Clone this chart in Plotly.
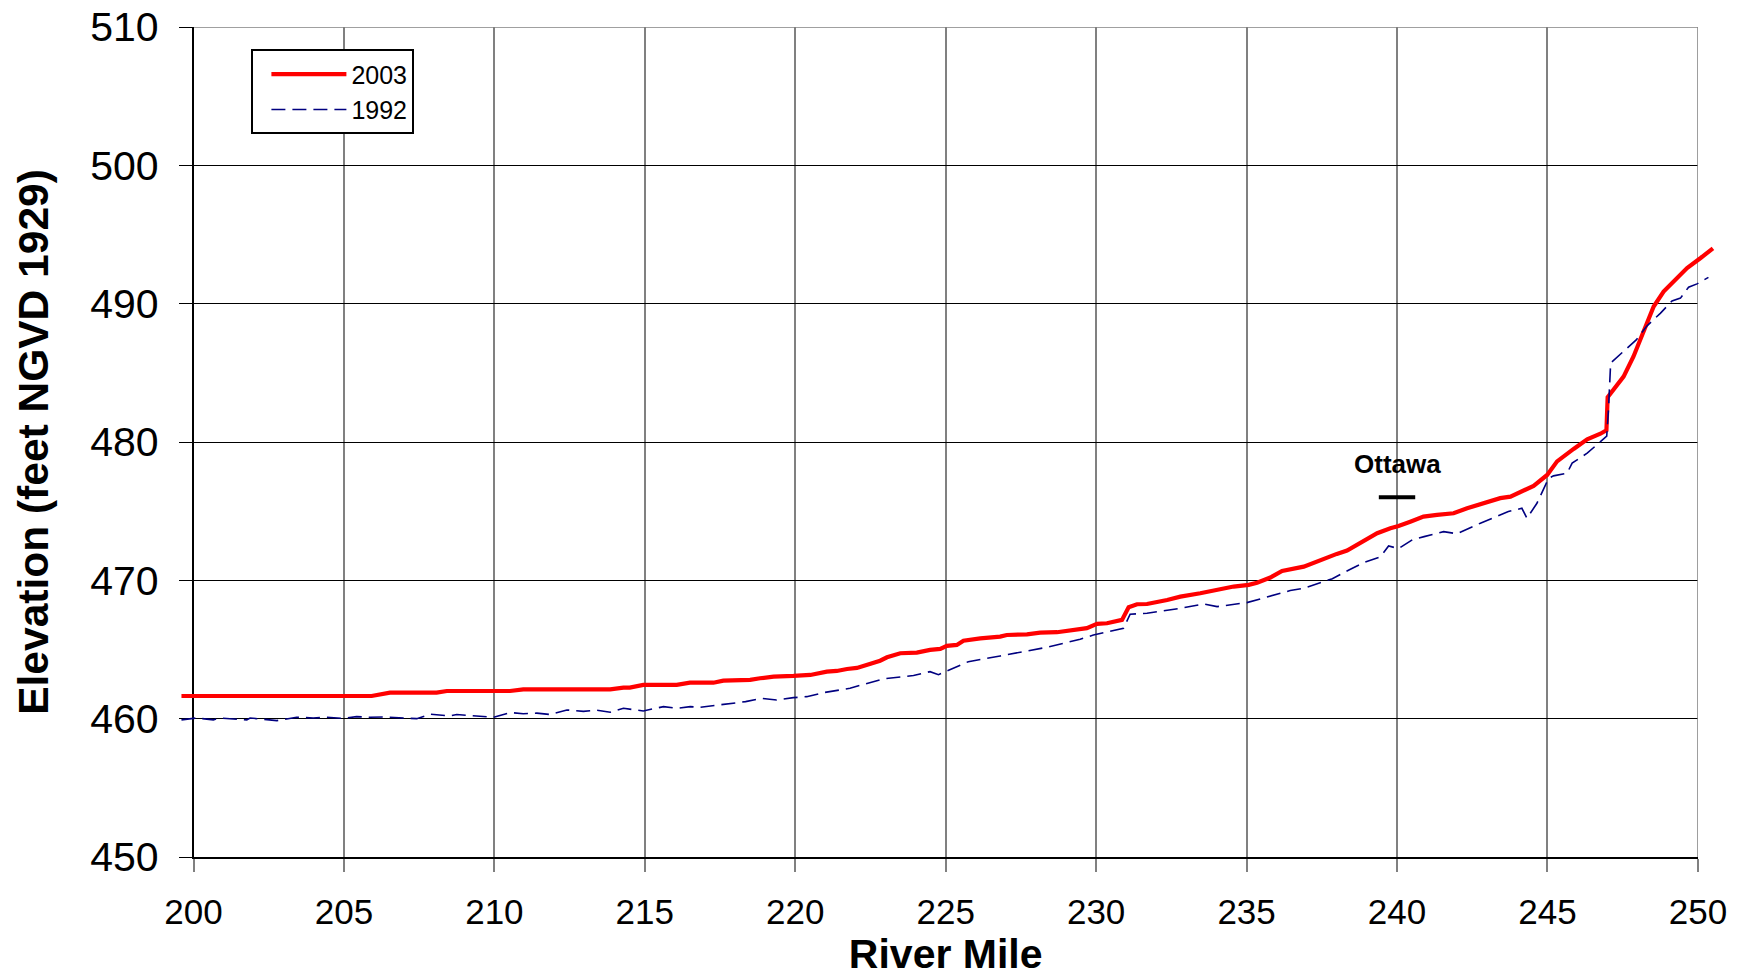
import plotly.graph_objects as go

# ---------------- data ----------------
mile_2003 = [199.6, 205.92, 206.53, 208.08, 208.42, 210.52, 210.96, 213.85, 214.29, 214.5,
             214.95, 216.06, 216.5, 217.28, 217.61, 218.5, 218.83, 219.28, 219.94, 220.5,
             221.05, 221.38, 221.72, 222.05, 222.82, 223.05, 223.49, 224.04, 224.48, 224.82,
             225.04, 225.37, 225.59, 226.15, 226.81, 227.03, 227.70, 228.14, 228.70, 229.14,
             229.69, 230.03, 230.36, 230.86, 231.08, 231.36, 231.69, 232.36, 232.80, 233.46,
             234.13, 234.57, 235.07, 235.35, 235.79, 236.18, 236.9, 237.23, 237.67, 238.0,
             238.34, 238.67, 239.0, 239.34, 239.78, 240.05, 240.44, 240.88, 241.33, 241.88,
             242.33, 242.88, 243.43, 243.77, 244.21, 244.54, 244.99, 245.32, 245.87, 246.32,
             246.76, 246.96, 247.0, 247.53, 247.86, 248.2, 248.53, 248.86, 249.2, 249.64,
             250.09, 250.5]
elev_2003 = [461.64, 461.64, 461.88, 461.88, 462.0, 462.0, 462.12, 462.12, 462.24, 462.24,
             462.44, 462.44, 462.6, 462.6, 462.75, 462.8, 462.92, 463.04, 463.09, 463.16,
             463.40, 463.45, 463.59, 463.67, 464.19, 464.44, 464.73, 464.77, 464.97, 465.04,
             465.26, 465.33, 465.64, 465.81, 465.93, 466.05, 466.10, 466.22, 466.25, 466.41,
             466.54, 466.85, 466.90, 467.14, 468.05, 468.27, 468.29, 468.58, 468.82, 469.07,
             469.36, 469.55, 469.67, 469.83, 470.2, 470.68, 470.99, 471.28, 471.6, 471.91,
             472.15, 472.56, 472.92, 473.41, 473.77, 473.93, 474.24, 474.61, 474.73, 474.85,
             475.21, 475.57, 475.94, 476.05, 476.49, 476.83, 477.62, 478.6, 479.5, 480.2,
             480.6, 480.85, 483.24, 484.73, 486.18, 488.1, 489.79, 490.88, 491.6, 492.57,
             493.3, 494.0]

mile_1992 = [199.6, 200.11, 200.66, 200.88, 201.77, 201.88, 202.77, 203.43, 203.98, 204.43,
             204.98, 205.42, 205.87, 206.42, 206.98, 207.42, 207.86, 208.53, 208.75, 209.52,
             209.97, 210.52, 210.96, 211.41, 211.85, 212.41, 212.96, 213.40, 213.85, 214.29,
             214.95, 215.62, 216.06, 216.51, 216.82, 218.35, 218.86, 219.38, 219.94, 220.38,
             220.94, 221.82, 222.93, 223.93, 224.48, 224.76, 225.48, 225.75, 226.81, 228.36,
             229.47, 229.91, 230.91, 231.13, 231.69, 232.8, 233.57, 234.02, 235.01, 235.68,
             236.45, 236.9, 237.85, 238.45, 238.89, 239.45, 239.72, 240.05, 240.52, 240.9,
             241.55, 241.99, 242.77, 243.7, 244.15, 244.32, 244.65, 245.04, 245.2, 245.65,
             245.82, 246.32, 246.97, 247.03, 247.1, 247.5, 247.95, 248.31, 248.75, 249.14,
             249.42, 249.69, 249.97, 250.35]
elev_1992 = [459.91, 460.05, 459.91, 460.05, 459.91, 460.05, 459.86, 460.10, 460.05, 460.10,
             460.02, 460.15, 460.10, 460.12, 460.05, 460.0, 460.32, 460.20, 460.30, 460.15,
             460.10, 460.44, 460.36, 460.40, 460.30, 460.63, 460.53, 460.61, 460.46, 460.75,
             460.56, 460.87, 460.75, 460.87, 460.82, 461.23, 461.47, 461.35, 461.52, 461.59,
             461.88, 462.2, 462.88, 463.12, 463.40, 463.18, 463.88, 464.12, 464.53, 465.16,
             465.74, 466.05, 466.54, 467.55, 467.62, 467.98, 468.29, 468.10, 468.39, 468.78,
             469.26, 469.43, 470.12, 470.8, 471.28, 471.7, 472.48, 472.3, 472.95, 473.16,
             473.52, 473.37, 474.13, 474.97, 475.21, 474.49, 475.57, 477.38, 477.55, 477.74,
             478.47, 479.19, 480.42, 482.44, 485.70, 486.5, 487.38, 488.4, 489.3, 490.2,
             490.4, 491.19, 491.43, 491.9]

series_names = ["2003", "1992"]
x_ticks = [200, 205, 210, 215, 220, 225, 230, 235, 240, 245, 250]
y_ticks = [450, 460, 470, 480, 490, 500, 510]
ottawa_label = "Ottawa"
ottawa_mile = 240
ottawa_elev = 476.0
ottawa_label_elev = 478.4

# ---------------- layout geometry ----------------
W, H = 1743, 977
ML, MR, MT, MB = 170, 25, 27, 120
x_lo, x_hi = 200, 250
y_lo, y_hi = 450, 510
plot_w = W - ML - MR
plot_h = H - MT - MB
axis_left_px, axis_right_px = 193.5, 1697.9
d0 = (axis_left_px - ML) / plot_w
d1 = (axis_right_px - ML) / plot_w
k = (axis_right_px - axis_left_px) / (x_hi - x_lo)  # px per mile
x2_lo = x_lo - (axis_left_px - ML) / k
x2_hi = x_hi + (W - MR - axis_right_px) / k

FONT = "Liberation Sans, Arial, sans-serif"

fig = go.Figure()

# data traces on an invisible overlay subplot so line ends are not clipped at 200/250
fig.add_trace(go.Scatter(x=mile_2003, y=elev_2003, name=series_names[0], mode="lines",
                         line=dict(color="#FF0000", width=4.2), xaxis="x2", yaxis="y2",
                         legendgroup="a"))
fig.add_trace(go.Scatter(x=mile_1992, y=elev_1992, name=series_names[1], mode="lines",
                         line=dict(color="#000080", width=1.6, dash="14px,7px"),
                         xaxis="x2", yaxis="y2", legendgroup="b"))
# Ottawa location marker
fig.add_trace(go.Scatter(x=[ottawa_mile], y=[ottawa_elev], mode="markers", showlegend=False,
                         marker=dict(symbol="line-ew", size=26, color="black",
                                     line=dict(color="black", width=4)),
                         xaxis="x", yaxis="y", hoverinfo="skip"))

fig.add_annotation(x=ottawa_mile, y=ottawa_label_elev, xref="x", yref="y",
                   text="<b>" + ottawa_label + "</b>", showarrow=False,
                   font=dict(family=FONT, size=26, color="black"), yanchor="middle")

# plot-area border (gray) at top and right
fig.add_shape(type="line", xref="x", yref="y", x0=x_lo, x1=x_hi, y0=y_hi, y1=y_hi,
              line=dict(color="#808080", width=1.5), layer="between")
fig.add_shape(type="line", xref="x", yref="y", x0=x_hi, x1=x_hi, y0=y_lo, y1=y_hi,
              line=dict(color="#808080", width=1.5), layer="between")

fig.update_layout(
    width=W, height=H,
    margin=dict(l=ML, r=MR, t=MT, b=MB, autoexpand=False),
    paper_bgcolor="white", plot_bgcolor="rgba(0,0,0,0)",
    font=dict(family=FONT, color="black"),
    xaxis=dict(domain=[d0, d1], range=[x_lo, x_hi], tickvals=x_ticks,
               showgrid=True, gridcolor="#808080", gridwidth=1.5,
               ticks="outside", ticklen=13, tickcolor="#808080", tickwidth=1.5,
               ticklabelstandoff=10,
               showline=True, linecolor="black", linewidth=1.5,
               tickfont=dict(family=FONT, size=35, color="black"),
               title=dict(text="<b>River Mile</b>", font=dict(family=FONT, size=41), standoff=14),
               zeroline=False, anchor="y", fixedrange=True),
    yaxis=dict(domain=[0, 1], range=[y_lo, y_hi], tickvals=y_ticks,
               showgrid=True, gridcolor="black", gridwidth=1,
               ticks="outside", ticklen=13, tickcolor="black", tickwidth=1,
               ticklabelstandoff=12,
               showline=True, linecolor="black", linewidth=1.5,
               tickfont=dict(family=FONT, size=41, color="black"),
               title=dict(text="<b>Elevation (feet NGVD 1929)</b>", font=dict(family=FONT, size=42.5),
                          standoff=28),
               zeroline=False, anchor="x", fixedrange=True),
    xaxis2=dict(domain=[0, 1], range=[x2_lo, x2_hi], visible=False, showgrid=False,
                zeroline=False, anchor="y2", fixedrange=True),
    yaxis2=dict(domain=[0, 1], range=[y_lo, y_hi], visible=False, showgrid=False,
                zeroline=False, anchor="x2", fixedrange=True),
    showlegend=True,
    legend=dict(x=(251.4 - ML) / plot_w, y=1 - (49.3 - MT) / plot_h,
                xanchor="left", yanchor="top", bgcolor="white",
                bordercolor="black", borderwidth=2,
                font=dict(family=FONT, size=25, color="black"),
                indentation=13, itemwidth=75, tracegroupgap=5, traceorder="normal",
                entrywidth=75, entrywidthmode="pixels"),
)

fig.write_html("out.html")
